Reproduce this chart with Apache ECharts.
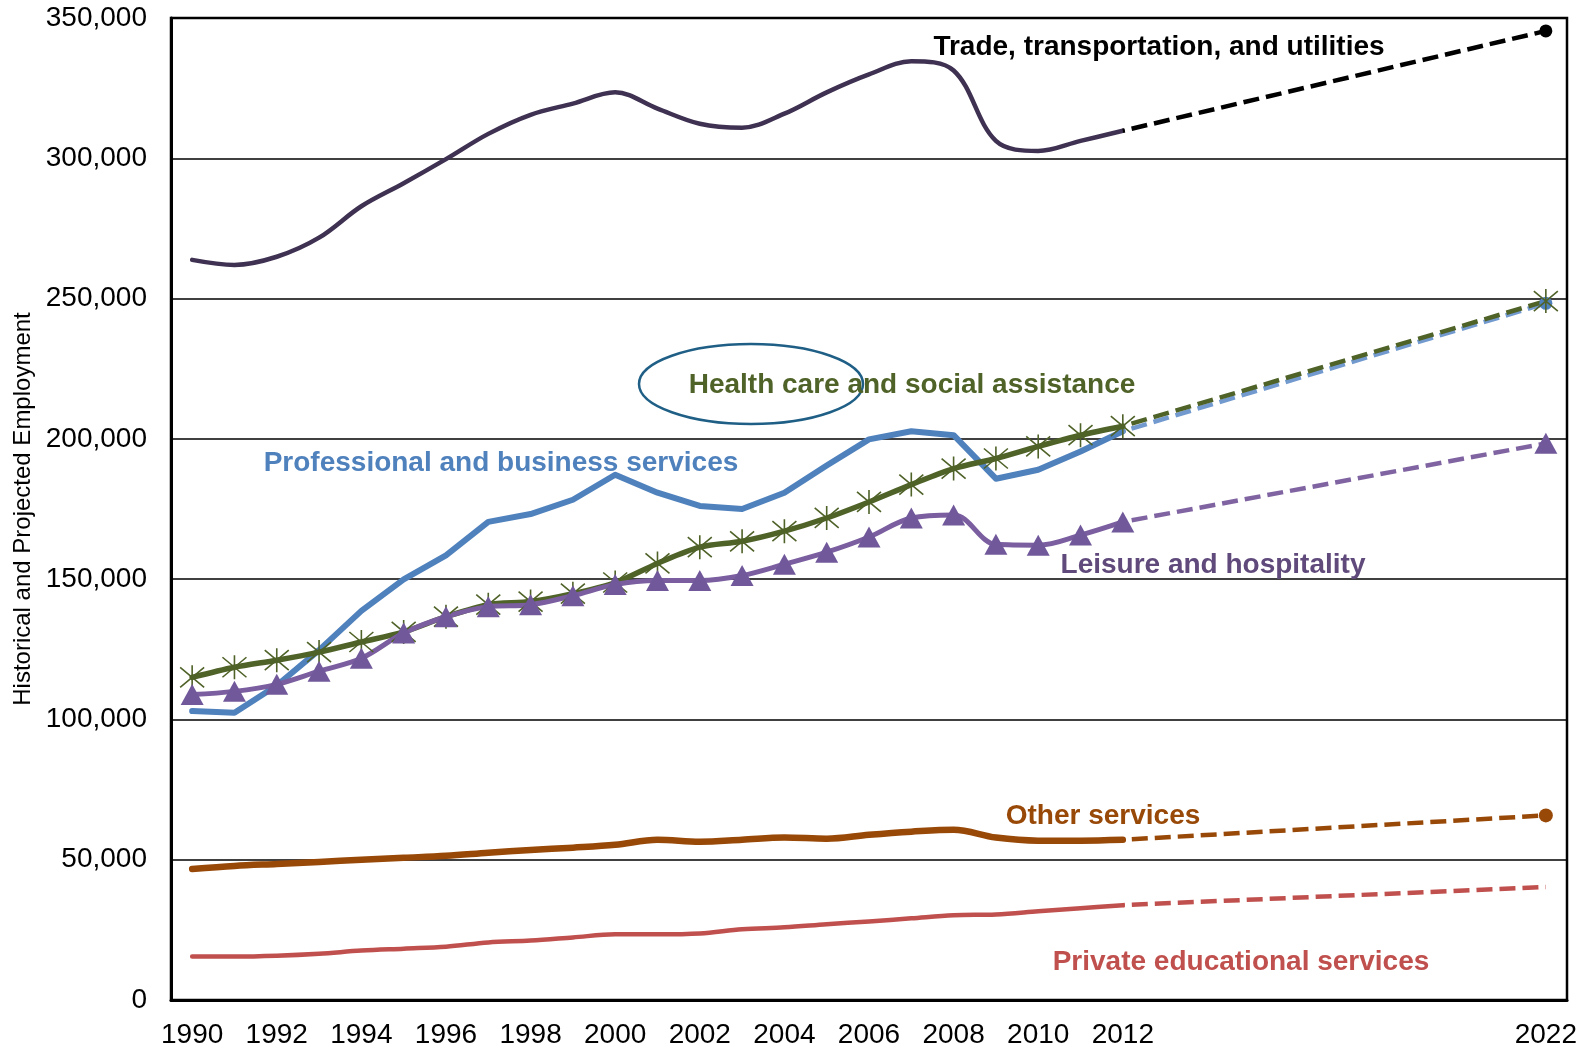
<!DOCTYPE html>
<html>
<head>
<meta charset="utf-8">
<script src="https://cdn.jsdelivr.net/npm/echarts@6/dist/echarts.min.js"></script>
<style>
  html, body { margin: 0; padding: 0; background: #fff; }
  #chart { width: 1581px; height: 1048px; }
</style>
</head>
<body>
<div id="chart"></div>
<script>
// historical years, then one projection year
const years = [1990, 1991, 1992, 1993, 1994, 1995, 1996, 1997, 1998, 1999, 2000, 2001,
  2002, 2003, 2004, 2005, 2006, 2007, 2008, 2009, 2010, 2011, 2012]
const projYear = 2022
const xLabelYears = [1990, 1992, 1994, 1996, 1998, 2000, 2002, 2004, 2006, 2008, 2010, 2012, 2022]

const trade = [263800, 262000, 264900, 271700, 282900, 291100, 299700, 308700, 315500, 319500, 323500, 317700,
  312300, 310900, 315900, 323500, 329900, 334600, 331300, 306200, 302600, 306200, 309800]
const tradeProj = 345400

const professional = [103000, 102400, 112100, 124700, 138700, 149900, 158500, 170400, 173200, 178300, 187200, 180800,
  176100, 175000, 180800, 190500, 199800, 202700, 201300, 185800, 189000, 195500, 202700]
const professionalProj = 248300

const health = [115000, 118600, 121100, 124000, 127600, 131200, 136600, 140900, 142000, 144800, 148800, 155600,
  161400, 163500, 167100, 171800, 177500, 183700, 189400, 193000, 197300, 201300, 204500]
const healthProj = 249100

const leisure = [108900, 110000, 112500, 117200, 121800, 130800, 136600, 140200, 140900, 144100, 148100, 149500,
  149500, 151300, 155300, 159600, 165000, 171800, 172900, 162400, 162100, 165700, 170400]
const leisureProj = 198400

const otherServices = [46700, 47800, 48500, 49200, 50000, 50700, 51400, 52500, 53500, 54300, 55300, 57100,
  56400, 57100, 57900, 57500, 58900, 60000, 60700, 57900, 56800, 56800, 57100]
const otherProj = 65800

const privateEdu = [15500, 15500, 15800, 16500, 17600, 18300, 19000, 20500, 21200, 22300, 23400, 23400,
  23700, 25200, 25900, 27000, 28000, 29100, 30200, 30500, 31600, 32700, 33800]
const privateEduProj = 40300

const FONT = '"Liberation Sans", Arial, sans-serif'
const ASTERISK = 'path://M0,0L20,20M20,0L0,20M10,-2L10,22'

const pairs = vals => years.map((y, i) => [y, vals[i]])

function solid(name, vals, color, width, smooth, sym) {
  const s = {
    name, type: 'line', data: pairs(vals), smooth,
    lineStyle: { color, width, cap: 'round', join: 'round' },
    symbol: 'none', animation: false, silent: true
  }
  if (sym) Object.assign(s, sym, { showSymbol: true, showAllSymbol: true })
  return s
}

function dashed(name, vals, proj, color, endSym) {
  const last = vals[vals.length - 1]
  const end = { value: [projYear, proj] }
  if (endSym) Object.assign(end, endSym)
  else end.symbol = 'none'
  return {
    name: name + ' (projected)', type: 'line',
    data: [{ value: [2012, last], symbol: 'none' }, end],
    symbol: 'circle', showSymbol: true, showAllSymbol: true,
    lineStyle: { color, width: 4.5, type: [16, 7], dashOffset: 14 },
    animation: false, silent: true
  }
}

const chart = echarts.init(document.getElementById('chart'))

const label = (text, x, y, fill) => ({
  type: 'text', x, y, z: 20,
  style: { text, fill, font: 'bold 28px ' + FONT, align: 'center', verticalAlign: 'middle' }
})

chart.setOption({
  backgroundColor: '#fff',
  animation: false,
  grid: {
    left: 171, right: 14, top: 18, bottom: 48,
    show: true, borderColor: '#000', borderWidth: 2.5,
    outerBoundsMode: 'none'
  },
  xAxis: {
    type: 'value', min: 1989.5, max: 2022.5,
    axisLine: { show: true, lineStyle: { color: '#000', width: 3 } },
    axisTick: { show: false },
    splitLine: { show: false },
    axisLabel: {
      customValues: xLabelYears,
      formatter: v => String(v),
      color: '#000', fontFamily: FONT, fontSize: 28, margin: 21
    }
  },
  yAxis: {
    type: 'value', min: 0, max: 350000, interval: 50000,
    name: 'Historical and Projected Employment',
    nameLocation: 'middle', nameGap: 135,
    nameTextStyle: { color: '#000', fontFamily: FONT, fontSize: 24 },
    axisLine: { show: true, lineStyle: { color: '#000', width: 3 } },
    axisTick: { show: false },
    splitLine: { lineStyle: { color: '#000', width: 1.5 } },
    axisLabel: { color: '#000', fontFamily: FONT, fontSize: 28, margin: 24 }
  },
  series: [
    solid('Private educational services', privateEdu, '#C0504D', 4.5, 0.35),
    dashed('Private educational services', privateEdu, privateEduProj, '#C0504D'),
    solid('Other services', otherServices, '#984807', 6.5, 0.35),
    dashed('Other services', otherServices, otherProj, '#984807',
      { symbol: 'circle', symbolSize: 14, itemStyle: { color: '#984807' } }),
    solid('Trade, transportation, and utilities', trade, '#3F3151', 4.5, 0.35),
    dashed('Trade, transportation, and utilities', trade, tradeProj, '#000',
      { symbol: 'circle', symbolSize: 13, itemStyle: { color: '#000' } }),
    solid('Professional and business services', professional, '#4F81BD', 6, false),
    dashed('Professional and business services', professional, professionalProj, '#729ACF',
      { symbol: 'circle', symbolSize: 13, itemStyle: { color: '#4F81BD' } }),
    solid('Health care and social assistance', health, '#4F6228', 5.5, 0.3, {
      symbol: ASTERISK, symbolSize: 24,
      itemStyle: { color: 'none', borderColor: '#4F6228', borderWidth: 1.6 }
    }),
    dashed('Health care and social assistance', health, healthProj, '#4F6228',
      { symbol: ASTERISK, symbolSize: 24, itemStyle: { color: 'none', borderColor: '#4F6228', borderWidth: 1.6 } }),
    solid('Leisure and hospitality', leisure, '#7A5E9F', 5, 0.35, {
      symbol: 'triangle', symbolSize: [23, 21],
      itemStyle: { color: '#70589A' }
    }),
    dashed('Leisure and hospitality', leisure, leisureProj, '#8064A2',
      { symbol: 'triangle', symbolSize: [23, 21], itemStyle: { color: '#70589A' } })
  ],
  graphic: [
    {
      type: 'ellipse', z: 10, silent: true,
      shape: { cx: 751, cy: 384, rx: 112, ry: 40 },
      style: { fill: 'none', stroke: '#1F5F86', lineWidth: 2.5 }
    },
    label('Trade, transportation, and utilities', 1159, 47, '#000'),
    label('Health care and social assistance', 912, 385, '#4F6228'),
    label('Professional and business services', 501, 463, '#4F81BD'),
    label('Leisure and hospitality', 1213, 565, '#604A7B'),
    label('Other services', 1103, 816, '#984807'),
    label('Private educational services', 1241, 962, '#C0504D')
  ]
})
</script>
</body>
</html>
